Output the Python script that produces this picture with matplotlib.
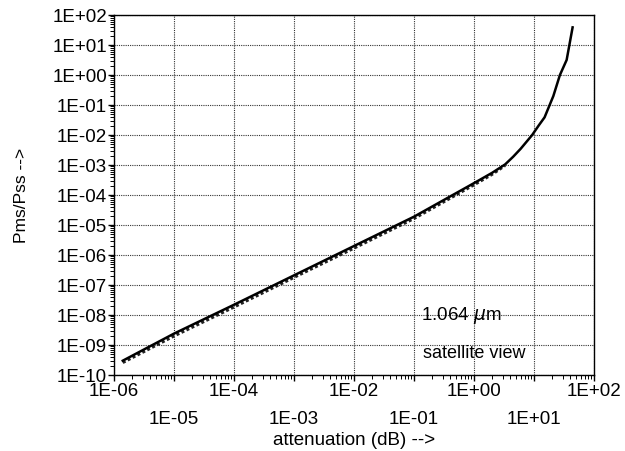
import numpy as np
import matplotlib
matplotlib.use('Agg')
import matplotlib.pyplot as plt
from matplotlib.ticker import FixedLocator, FixedFormatter, LogLocator, NullFormatter

plt.rcParams['font.family'] = ['Liberation Sans', 'DejaVu Sans']

# solid curve
att = [1.4e-6, 1e-5, 1e-4, 1e-3, 1e-2, 1e-1, 1.0, 2.0, 3.3, 4.5, 6.0, 9.3, 12.0,
       15.0, 21.0, 27.0, 35.0, 44.0]
pms = [3.0e-10, 2.4e-9, 2.2e-8, 2.1e-7, 2.0e-6, 1.9e-5, 2.5e-4, 5.5e-4, 1.05e-3, 1.9e-3,
       3.5e-3, 1.0e-2, 2.1e-2, 3.9e-2, 0.2, 1.0, 3.2, 39.0]

# dotted curve, just below the solid one
att_dot = [1.4e-6, 1e-5, 1e-4, 1e-3, 1e-2, 1e-1, 1.0, 2.0, 3.3]
pms_dot = [2.6e-10, 2.0e-9, 1.85e-8, 1.8e-7, 1.7e-6, 1.65e-5, 2.2e-4, 4.9e-4, 0.97e-3]

x_even = [1e-6, 1e-4, 1e-2, 1e0, 1e2]
x_even_labels = ['1E-06', '1E-04', '1E-02', '1E+00', '1E+02']
x_odd = [1e-5, 1e-3, 1e-1, 1e1]
x_odd_labels = ['1E-05', '1E-03', '1E-01', '1E+01']
y_ticks = [1e-10, 1e-9, 1e-8, 1e-7, 1e-6, 1e-5, 1e-4, 1e-3, 1e-2, 1e-1, 1e0, 1e1, 1e2]
y_labels = ['1E-10', '1E-09', '1E-08', '1E-07', '1E-06', '1E-05', '1E-04',
            '1E-03', '1E-02', '1E-01', '1E+00', '1E+01', '1E+02']

fig = plt.figure(figsize=(6.25, 4.51), dpi=100)
ax = fig.add_axes([0.1824, 0.1685, 0.768, 0.798])

ax.plot(att_dot, pms_dot, color='#222222', lw=2.2, linestyle=(0, (1, 0.8)))
ax.plot(att, pms, color='black', lw=1.8)

ax.set_xscale('log')
ax.set_yscale('log')
ax.set_xlim(1e-6, 1e2)
ax.set_ylim(1e-10, 1e2)

# grid on every decade, labels only on even decades on this axis
ax.xaxis.set_major_locator(FixedLocator(x_even + x_odd))
ax.xaxis.set_major_formatter(FixedFormatter(x_even_labels + [''] * len(x_odd)))
ax.yaxis.set_major_locator(FixedLocator(y_ticks))
ax.yaxis.set_major_formatter(FixedFormatter(y_labels))
ax.xaxis.set_minor_locator(LogLocator(base=10, subs=np.arange(2, 10), numticks=20))
ax.yaxis.set_minor_locator(LogLocator(base=10, subs=np.arange(2, 10), numticks=20))
ax.xaxis.set_minor_formatter(NullFormatter())
ax.yaxis.set_minor_formatter(NullFormatter())

ax.tick_params(axis='both', which='major', length=4, width=1, labelsize=13.5, direction='out')
ax.tick_params(axis='both', which='minor', length=3, width=0.7, direction='out')
ax.tick_params(axis='x', pad=2)
ax.tick_params(axis='y', pad=1)

# second row of x labels for odd decades
sec = ax.secondary_xaxis('bottom')
sec.set_xticks(x_odd)
sec.set_xticklabels(x_odd_labels)
sec.xaxis.set_minor_locator(FixedLocator([]))
sec.tick_params(axis='x', length=0, pad=26, labelsize=13.5)
sec.spines['bottom'].set_visible(False)

ax.grid(True, which='major', color='#333333', linestyle=(0, (1, 1)), lw=0.8)
for s in ax.spines.values():
    s.set_linewidth(1.0)

ax.text(0.13, 1e-8, '1.064 $\\mu$m', fontsize=13.5, va='center', ha='left')
ax.text(0.14, 5.4e-10, 'satellite view', fontsize=13, va='center', ha='left')

sec.set_xlabel('attenuation (dB) -->', fontsize=13.5, labelpad=3)
ax.set_ylabel('Pms/Pss -->', fontsize=12.5, labelpad=17)

fig.savefig('out.png', dpi=100)
